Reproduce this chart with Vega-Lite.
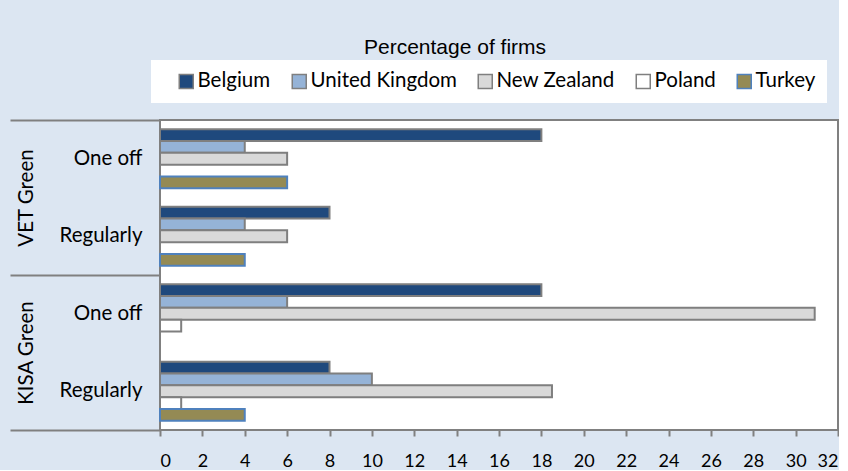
{
  "$schema": "https://vega.github.io/schema/vega-lite/v6.json",
  "width": 678,
  "height": 310,
  "autosize": {"type": "pad"},
  "padding": {"left": 9, "top": 37, "right": 0, "bottom": 0},
  "background": "#dce6f2",
  "title": {
    "text": "Percentage of firms",
    "font": "Liberation Sans",
    "fontSize": 21,
    "fontWeight": "normal",
    "color": "#000000",
    "anchor": "middle",
    "frame": "group",
    "dx": -44,
    "offset": 2
  },
  "config": {
    "view": {"stroke": "#808080", "strokeWidth": 2, "fill": "#ffffff"},
    "axis": {"grid": false, "labelFont": "Lato", "labelFontSize": 20.5, "labelColor": "#000000"},
    "legend": {
      "orient": "none",
      "legendX": -9,
      "legendY": -60,
      "direction": "horizontal",
      "fillColor": "#ffffff",
      "padding": 11,
      "symbolType": "square",
      "symbolSize": 196,
      "symbolStrokeWidth": 1.5,
      "labelFont": "Lato",
      "labelFontSize": 20.5,
      "labelColor": "#000000",
      "columnPadding": 4,
      "symbolOffset": 14,
      "labelOffset": 1
    }
  },
  "data": {
    "values": [
      {"group": "VET Green", "cat": "VET Green|One off", "country": "Belgium", "value": 18},
      {"group": "VET Green", "cat": "VET Green|One off", "country": "United Kingdom", "value": 4},
      {"group": "VET Green", "cat": "VET Green|One off", "country": "New Zealand", "value": 6},
      {"group": "VET Green", "cat": "VET Green|One off", "country": "Turkey", "value": 6},
      {"group": "VET Green", "cat": "VET Green|Regularly", "country": "Belgium", "value": 8},
      {"group": "VET Green", "cat": "VET Green|Regularly", "country": "United Kingdom", "value": 4},
      {"group": "VET Green", "cat": "VET Green|Regularly", "country": "New Zealand", "value": 6},
      {"group": "VET Green", "cat": "VET Green|Regularly", "country": "Turkey", "value": 4},
      {"group": "KISA Green", "cat": "KISA Green|One off", "country": "Belgium", "value": 18},
      {"group": "KISA Green", "cat": "KISA Green|One off", "country": "United Kingdom", "value": 6},
      {"group": "KISA Green", "cat": "KISA Green|One off", "country": "New Zealand", "value": 30.9},
      {"group": "KISA Green", "cat": "KISA Green|One off", "country": "Poland", "value": 1},
      {"group": "KISA Green", "cat": "KISA Green|Regularly", "country": "Belgium", "value": 8},
      {"group": "KISA Green", "cat": "KISA Green|Regularly", "country": "United Kingdom", "value": 10},
      {"group": "KISA Green", "cat": "KISA Green|Regularly", "country": "New Zealand", "value": 18.5},
      {"group": "KISA Green", "cat": "KISA Green|Regularly", "country": "Poland", "value": 1},
      {"group": "KISA Green", "cat": "KISA Green|Regularly", "country": "Turkey", "value": 4}
    ]
  },
  "layer": [
    {
      "mark": {"type": "bar", "strokeWidth": 2},
      "encoding": {
        "y": {
          "field": "cat", "type": "nominal",
          "scale": {"domain": ["VET Green|One off", "VET Green|Regularly", "KISA Green|One off", "KISA Green|Regularly"], "paddingInner": 0, "paddingOuter": 0},
          "axis": {"title": null, "ticks": false, "domain": false, "labelPadding": 18, "labelExpr": "split(datum.value, '|')[1]"}
        },
        "yOffset": {
          "field": "country", "type": "nominal",
          "scale": {"domain": ["Belgium", "United Kingdom", "New Zealand", "Poland", "Turkey"], "paddingInner": 0, "paddingOuter": 0.78}
        },
        "x": {
          "field": "value", "type": "quantitative",
          "scale": {"domain": [0, 32], "nice": false},
          "axis": {"title": null, "values": [0, 2, 4, 6, 8, 10, 12, 14, 16, 18, 20, 22, 24, 26, 28, 30, 32], "domain": false, "tickColor": "#808080", "tickWidth": 2, "tickSize": 6, "labelPadding": 16, "labelFontSize": 18}
        },
        "color": {
          "field": "country", "type": "nominal",
          "scale": {"domain": ["Belgium", "United Kingdom", "New Zealand", "Poland", "Turkey"], "range": ["#1f497d", "#95b3d7", "#d9d9d9", "#ffffff", "#948a54"]},
          "legend": {"title": null}
        },
        "stroke": {
          "field": "country", "type": "nominal",
          "scale": {"domain": ["Belgium", "United Kingdom", "New Zealand", "Poland", "Turkey"], "range": ["#7f7f7f", "#7f7f7f", "#7f7f7f", "#7f7f7f", "#4f81bd"]},
          "legend": {"title": null}
        }
      }
    },
    {
      "mark": {"type": "point", "opacity": 0},
      "encoding": {
        "y": {
          "field": "group", "type": "nominal",
          "scale": {"domain": ["VET Green", "KISA Green"], "paddingInner": 0, "paddingOuter": 0},
          "axis": {"orient": "left", "title": null, "labels": false, "domain": false, "tickBand": "extent", "tickSize": 150, "tickWidth": 2, "tickColor": "#808080"}
        }
      }
    },
    {
      "mark": {"type": "point", "opacity": 0},
      "encoding": {
        "y": {
          "field": "group", "type": "nominal",
          "scale": {"domain": ["VET Green", "KISA Green"], "paddingInner": 0, "paddingOuter": 0},
          "axis": {"orient": "left", "title": null, "ticks": false, "tickSize": 0, "domain": false, "labelAngle": -90, "labelAlign": "center", "labelBaseline": "middle", "labelPadding": 134}
        }
      }
    }
  ],
  "resolve": {"scale": {"y": "independent"}, "axis": {"y": "independent"}}
}
